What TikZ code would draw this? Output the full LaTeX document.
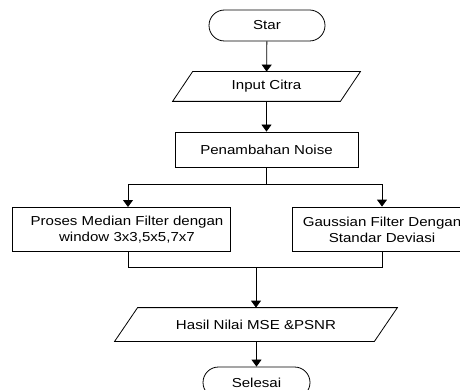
\documentclass[tikz,border=0pt]{standalone}
\usepackage{fontspec}
\setmainfont[FakeStretch=1.16]{Liberation Sans}
\usetikzlibrary{arrows.meta,shapes.misc,calc}
\tikzset{
  base/.style={line width=0.8pt, font=\fontsize{13}{16}\selectfont},
  term/.style={base, draw, rounded rectangle, minimum width=#1, minimum height=31, inner sep=0pt},
  procbox/.style={base, draw, rectangle, inner sep=0pt},
  txt/.style={base, align=center, inner sep=0pt},
  io/.style={base, inner sep=0pt},
  arr/.style={line width=0.8pt, -{Triangle[length=7pt,width=10pt]}},
  ln/.style={line width=0.8pt}
}
\begin{document}
\begin{tikzpicture}[x=1pt,y=-1pt]
\useasboundingbox (0,0) rectangle (460,390);
\clip (0,0) rectangle (460,390);
% start
\node[term=116] (st) at (267,25.5) {Star};
% input
\node[io, minimum width=187, minimum height=29] (in) at (266.5,86.5) {Input Citra};
\draw[ln] ([xshift=20]in.north west) -- (in.north east) -- ([xshift=-20]in.south east) -- (in.south west) -- cycle;
% noise
\node[procbox, minimum width=183, minimum height=35] (pn) at (266.5,149.5) {Penambahan Noise};
% left box
\node[procbox, minimum width=218, minimum height=44] (lb) at (121,229) {};
\node[txt] (lbt) at (127,230) {Proses Median Filter dengan\\window 3x3,5x5,7x7};
% right box
\node[procbox, minimum width=180, minimum height=44] (rb) at (382,229) {};
\node[txt] (rbt) at (382,230) {Gaussian Filter Dengan\\Standar Deviasi};
% output
\node[io, minimum width=282, minimum height=33] (out) at (256,324.5) {Hasil Nilai MSE \&PSNR};
\draw[ln] ([xshift=23]out.north west) -- (out.north east) -- ([xshift=-23]out.south east) -- (out.south west) -- cycle;
% end
\node[term=107] (en) at (256.5,382.5) {Selesai};
% connectors
\coordinate (j1) at (266.5,184);
\coordinate (j2) at (256,267);
\coordinate (lbx) at (128,251);
\coordinate (lbn) at (128,207);
\draw[arr] (st) -- (in);
\draw[arr] (in) -- (pn);
\draw[ln] (pn) -- (j1);
\draw[arr] (j1) -| (lbn);
\draw[arr] (j1) -| (rb);
\draw[ln] (lbx) |- (j2);
\draw[ln] (rb) |- (j2);
\draw[arr] (j2) -- (out.north -| j2);
\draw[arr] (out.south -| en) -- (en);
\end{tikzpicture}
\end{document}
